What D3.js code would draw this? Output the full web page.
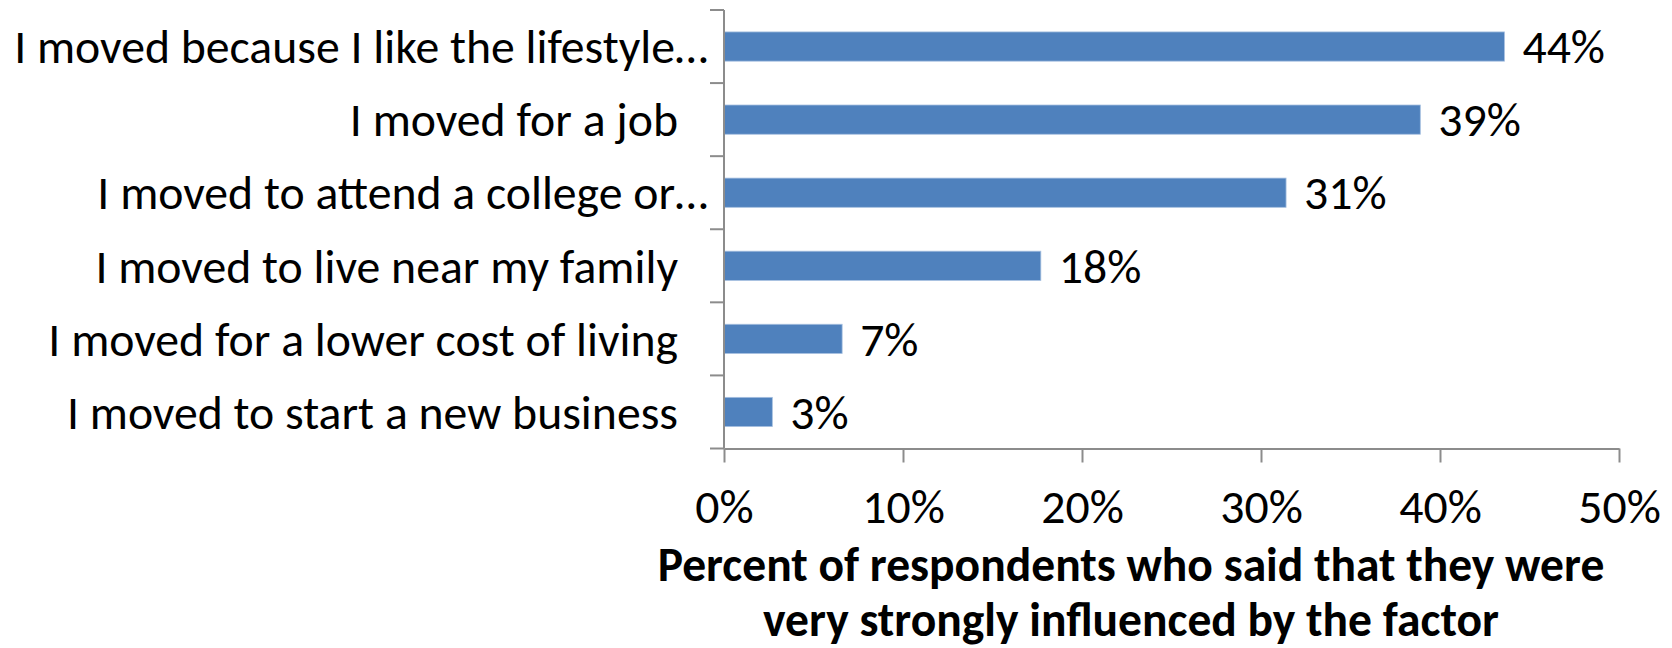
<!DOCTYPE html>
<html>
<head>
<meta charset="utf-8">
<script src="https://cdn.jsdelivr.net/npm/d3@7"></script>
<style>
  body { margin: 0; background: #fff; }
  svg text { font-family: Carlito, Calibri, Lato, sans-serif; fill: #000; }
</style>
</head>
<body>
<div id="chart"></div>
<script>
// data
const categories = [
    "I moved because I like the lifestyle…",
    "I moved for a job",
    "I moved to attend a college or…",
    "I moved to live near my family",
    "I moved for a lower cost of living",
    "I moved to start a new business"
];
const values = [43.6, 38.9, 31.4, 17.7, 6.6, 2.7];
const valueLabels = ["44%", "39%", "31%", "18%", "7%", "3%"];
const xTicks = [0, 10, 20, 30, 40, 50];
const xTickLabels = ["0%", "10%", "20%", "30%", "40%", "50%"];
const titleLines = [
    "Percent of respondents who said that they were",
    "very strongly influenced by the factor"
];

const width = 1672, height = 648;
const plot = {left: 724, right: 1619, top: 10, bottom: 448.5};
const barColor = "#4f81bd", axisColor = "#8c8c8c";

const svg = d3.select("#chart").append("svg")
    .attr("width", width)
    .attr("height", height);

// pick a font size so the long label has the width it has in the picture
let probe = svg.append("text").attr("font-size", 40).text(categories[0]);
let fs = 40 * 694 / probe.node().getComputedTextLength();
probe.remove();
probe = svg.append("text").attr("font-size", 40).attr("font-weight", "bold").text(titleLines[0]);
let fsBold = 40 * 947 / probe.node().getComputedTextLength();
probe.remove();
const capOff = fs * 0.35;

const x = d3.scaleLinear()
    .domain([0, 50])
    .range([plot.left, plot.right]);

const y = d3.scaleBand()
    .domain(categories)
    .range([plot.top, plot.bottom])
    .paddingInner(0.6)
    .paddingOuter(0.3);

// bars
svg.selectAll(".bar").data(values)
    .enter().append("rect")
    .attr("class", "bar")
    .attr("x", x(0))
    .attr("y", (d, i) => y(categories[i]))
    .attr("width", d => x(d) - x(0))
    .attr("height", y.bandwidth())
    .attr("fill", barColor)
    .attr("stroke", "#a7c0e0")
    .attr("stroke-width", 0.8);

// value labels
svg.selectAll(".vlabel").data(values)
    .enter().append("text")
    .attr("class", "vlabel")
    .attr("x", d => x(d) + 18)
    .attr("y", (d, i) => y(categories[i]) + y.bandwidth() / 2 + capOff)
    .attr("font-size", fs)
    .text((d, i) => valueLabels[i]);

// y axis: line + ticks on band edges
svg.append("line")
    .attr("x1", plot.left).attr("x2", plot.left)
    .attr("y1", plot.top).attr("y2", plot.bottom)
    .attr("stroke", axisColor).attr("stroke-width", 2);
const edges = d3.range(categories.length + 1).map(i => plot.top + i * y.step());
svg.selectAll(".ytick").data(edges)
    .enter().append("line")
    .attr("class", "ytick")
    .attr("x1", plot.left - 14).attr("x2", plot.left)
    .attr("y1", d => d).attr("y2", d => d)
    .attr("stroke", axisColor).attr("stroke-width", 2);

// category labels (truncated ones sit closer to the axis)
svg.selectAll(".clabel").data(categories)
    .enter().append("text")
    .attr("class", "clabel")
    .attr("text-anchor", "end")
    .attr("x", d => d.endsWith("…") ? plot.left - 16 : plot.left - 46)
    .attr("y", d => y(d) + y.bandwidth() / 2 + capOff)
    .attr("font-size", fs)
    .text(d => d);

// x axis
const xAxis = svg.append("g")
    .attr("transform", `translate(0, ${plot.bottom})`)
    .call(d3.axisBottom(x).tickValues(xTicks).tickSize(14).tickSizeOuter(0)
        .tickFormat((d, i) => xTickLabels[i]));
xAxis.select(".domain").attr("stroke", axisColor).attr("stroke-width", 2);
xAxis.selectAll(".tick line").attr("stroke", axisColor).attr("stroke-width", 2);
xAxis.selectAll(".tick text")
    .attr("font-size", fs)
    .attr("font-family", null)
    .attr("dy", null)
    .attr("y", 523 - plot.bottom);
xAxis.attr("font-family", null).attr("font-size", null);

// axis title
svg.selectAll(".title").data(titleLines)
    .enter().append("text")
    .attr("class", "title")
    .attr("text-anchor", "middle")
    .attr("x", 1131)
    .attr("y", (d, i) => 581 + i * 55)
    .attr("font-size", fsBold)
    .attr("font-weight", "bold")
    .text(d => d);
</script>
</body>
</html>
